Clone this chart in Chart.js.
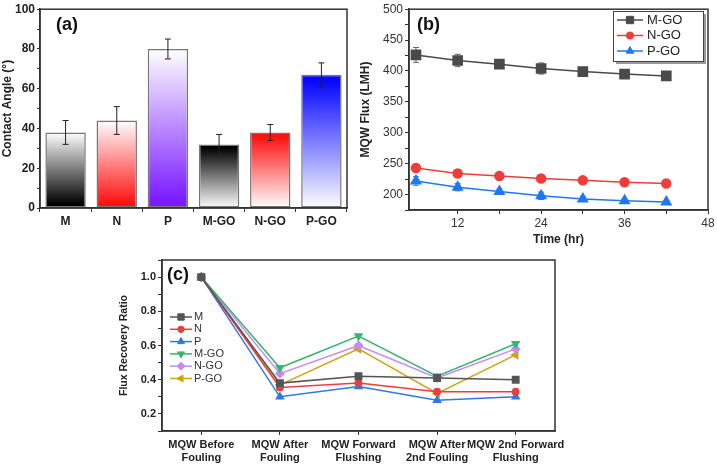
<!DOCTYPE html>
<html><head><meta charset="utf-8">
<script src="https://cdn.jsdelivr.net/npm/chart.js@4.4.0/dist/chart.umd.min.js"></script>
<style>
html,body{margin:0;padding:0;background:#fff;}
#wrap{position:relative;width:717px;height:467px;overflow:hidden;background:#fff;}
.c{position:absolute;}
</style></head><body>
<div id="wrap">
<div class="c" style="left:0;top:0;width:355px;height:235px"><canvas id="ca"></canvas></div>
<div class="c" style="left:355px;top:0;width:362px;height:250px"><canvas id="cb"></canvas></div>
<div class="c" style="left:110px;top:245px;width:470px;height:222px"><canvas id="cc"></canvas></div>
</div>
<script>
// ---------- Data ----------
const angleCategories = ['M', 'N', 'P', 'M-GO', 'N-GO', 'P-GO'];
const angleValues = [38, 44, 80, 32, 38, 67];
const angleErrors = [6, 7, 5, 5, 4, 6];

const timeHours = [6, 12, 18, 24, 30, 36, 42];
const fluxMGO = [426, 417, 411, 404, 399, 395, 392];
const fluxMGOErr = [12, 10, 7, 9, 5, 3, 3];
const fluxNGO = [243, 234, 230, 226, 223, 220, 218];
const fluxNGOErr = [5, 6, 4, 5, 4, 3, 3];
const fluxPGO = [222, 212, 205, 198, 193, 190, 188];
const fluxPGOErr = [7, 6, 4, 6, 4, 3, 2];

const stageLabels = [['MQW Before', 'Fouling'], ['MQW After', 'Fouling'], ['MQW Forward', 'Flushing'], ['MQW After', '2nd Fouling'], ['MQW 2nd Forward', 'Flushing']];
const frrM = [1.0, 0.38, 0.42, 0.41, 0.40];
const frrN = [1.0, 0.355, 0.38, 0.33, 0.33];
const frrP = [1.0, 0.30, 0.36, 0.28, 0.30];
const frrMGO = [1.0, 0.47, 0.655, 0.42, 0.61];
const frrNGO = [1.0, 0.435, 0.60, 0.41, 0.58];
const frrPGO = [1.0, 0.37, 0.58, 0.32, 0.545];

// ---------- Common ----------
const FONT = "'Liberation Sans', Arial, sans-serif";
Chart.defaults.font.family = FONT;
Chart.defaults.color = '#222';
Chart.defaults.animation = false;

const framePlugin = {
  id: 'frame',
  afterDraw(chart) {
    const { ctx, chartArea: a } = chart;
    ctx.save();
    ctx.strokeStyle = '#333';
    ctx.lineWidth = 1.5;
    ctx.strokeRect(a.left, a.top, a.right - a.left, a.bottom - a.top);
    ctx.restore();
  }
};

const panelLabel = {
  id: 'panelLabel',
  afterDraw(chart, args, o) {
    if (!o || !o.text) return;
    const ctx = chart.ctx;
    ctx.save();
    ctx.font = o.font;
    ctx.fillStyle = '#111';
    ctx.textBaseline = 'middle';
    ctx.fillText(o.text, o.x, o.y);
    ctx.restore();
  }
};

function drawErrors(chart) {
  const ctx = chart.ctx;
  const ys = chart.scales.y;
  chart.data.datasets.forEach((ds, di) => {
    if (!ds.errors) return;
    const meta = chart.getDatasetMeta(di);
    meta.data.forEach((el, i) => {
      const raw = ds.data[i];
      const v = typeof raw === 'object' ? raw.y : raw;
      const e = ds.errors[i];
      const yt = ys.getPixelForValue(v + e), yb = ys.getPixelForValue(v - e);
      const cw = ds.capWidth || 4;
      ctx.save();
      ctx.strokeStyle = ds.errorColor || '#000';
      ctx.lineWidth = ds.errorWidth || 1;
      ctx.beginPath();
      ctx.moveTo(el.x, yt); ctx.lineTo(el.x, yb);
      ctx.moveTo(el.x - cw, yt); ctx.lineTo(el.x + cw, yt);
      ctx.moveTo(el.x - cw, yb); ctx.lineTo(el.x + cw, yb);
      ctx.stroke();
      ctx.restore();
    });
  });
}
const errorAfter = { id: 'errorAfter', afterDatasetsDraw(chart) { drawErrors(chart); } };
const errorBefore = { id: 'errorBefore', beforeDatasetsDraw(chart) { drawErrors(chart); } };

const lineLegend = {
  id: 'lineLegend',
  afterDraw(chart, args, o) {
    if (!o || !o.display) return;
    const ctx = chart.ctx;
    ctx.save();
    if (o.box) {
      const b = o.box;
      ctx.fillStyle = '#9a9a9a';
      ctx.fillRect(b.x + 3, b.y + 3, b.w, b.h);
      ctx.fillStyle = '#fff';
      ctx.fillRect(b.x, b.y, b.w, b.h);
      ctx.strokeStyle = '#444';
      ctx.lineWidth = 1;
      ctx.strokeRect(b.x + 0.5, b.y + 0.5, b.w, b.h);
    }
    ctx.font = o.font;
    ctx.textBaseline = 'middle';
    chart.data.datasets.forEach((ds, i) => {
      const y = o.y + i * o.gap;
      ctx.strokeStyle = ds.borderColor;
      ctx.lineWidth = ds.borderWidth;
      ctx.beginPath();
      ctx.moveTo(o.x, y); ctx.lineTo(o.x + o.len, y);
      ctx.stroke();
      ctx.fillStyle = ds.pointBackgroundColor || ds.borderColor;
      ctx.strokeStyle = ds.borderColor;
      ctx.lineWidth = 1;
      Chart.helpers.drawPoint(ctx, {
        pointStyle: ds.pointStyle, radius: (ds.pointRadius || 3) * (o.scale || 1),
        rotation: ds.pointRotation || 0, borderWidth: 1
      }, o.x + o.len / 2, y);
      ctx.fillStyle = o.color || '#222';
      ctx.fillText(ds.label, o.x + o.len + o.textGap, y);
    });
    ctx.restore();
  }
};

// ---------- Panel (a) ----------
const barBase = ['#000000', '#ff1010', '#7a1cff', '#000000', '#ff1010', '#0808ff'];
function barGradient(c) {
  const chart = c.chart;
  if (!chart.chartArea) return 'rgba(0,0,0,0)';
  const i = c.dataIndex;
  const ys = chart.scales.y;
  const top = ys.getPixelForValue(angleValues[i]);
  const bot = ys.getPixelForValue(0);
  const g = chart.ctx.createLinearGradient(0, bot, 0, top);
  if (i < 3) { g.addColorStop(0, barBase[i]); g.addColorStop(0.05, barBase[i]); g.addColorStop(1, '#ffffff'); }
  else { g.addColorStop(0, '#ffffff'); g.addColorStop(0.95, barBase[i]); g.addColorStop(1, barBase[i]); }
  return g;
}

new Chart(document.getElementById('ca'), {
  type: 'bar',
  data: {
    labels: angleCategories,
    datasets: [{
      data: angleValues,
      errors: angleErrors,
      capWidth: 3,
      errorColor: '#222',
      backgroundColor: barGradient,
      borderColor: '#777',
      borderWidth: 1.5,
      borderSkipped: false,
      barPercentage: 0.79,
      categoryPercentage: 1.0
    }]
  },
  options: {
    responsive: true,
    maintainAspectRatio: false,
    layout: { padding: { left: 0, top: 7, right: 8, bottom: 0 } },
    plugins: {
      legend: { display: false }, tooltip: { enabled: false },
      panelLabel: { text: '(a)', x: 56, y: 25, font: "bold 18px " + FONT }
    },
    scales: {
      x: {
        grid: { display: true, drawOnChartArea: false, drawTicks: true, tickLength: 4, color: '#333' },
        border: { display: true, color: '#333', width: 1.5 },
        ticks: { font: { size: 12, weight: 'bold' }, color: '#222', padding: 2 },
        afterFit(s) { s.height = 27; }
      },
      y: {
        min: 0, max: 100,
        ticks: { stepSize: 10, autoSkip: false, font: { size: 12, weight: 'bold' }, color: '#222', padding: 2,
          callback: v => (v % 20 === 0 ? v : '') },
        grid: { display: true, drawOnChartArea: false, drawTicks: true, tickLength: 3, color: '#333' },
        border: { display: true, color: '#333', width: 1.5 },
        title: { display: true, text: 'Contact Angle (°)', font: { size: 12, weight: 'bold' }, color: '#222', padding: { top: 0, bottom: 2 } },
        afterFit(s) { s.width = 40; }
      }
    }
  },
  plugins: [framePlugin, errorAfter, panelLabel]
});

// ---------- Panel (b) ----------
const xy = (arr) => arr.map((v, i) => ({ x: timeHours[i], y: v }));
new Chart(document.getElementById('cb'), {
  type: 'line',
  data: {
    datasets: [
      { label: 'M-GO', data: xy(fluxMGO), errors: fluxMGOErr, errorColor: '#666', capWidth: 3,
        borderColor: '#4a4a4a', backgroundColor: '#4a4a4a', pointBackgroundColor: '#4a4a4a', borderWidth: 1.5,
        pointStyle: 'rect', pointRadius: 6.5 },
      { label: 'N-GO', data: xy(fluxNGO), errors: fluxNGOErr, errorColor: '#f04848', capWidth: 3,
        borderColor: '#f23c3c', backgroundColor: '#f23c3c', pointBackgroundColor: '#f23c3c', borderWidth: 1.5,
        pointStyle: 'circle', pointRadius: 4.5 },
      { label: 'P-GO', data: xy(fluxPGO), errors: fluxPGOErr, errorColor: '#2a80f0', capWidth: 3,
        borderColor: '#1f78f0', backgroundColor: '#1f78f0', pointBackgroundColor: '#1f78f0', borderWidth: 1.5,
        pointStyle: 'triangle', pointRadius: 5.5 }
    ]
  },
  options: {
    responsive: true,
    maintainAspectRatio: false,
    layout: { padding: { left: 0, top: 7, right: 9, bottom: 0 } },
    plugins: {
      legend: { display: false }, tooltip: { enabled: false },
      panelLabel: { text: '(b)', x: 62, y: 25, font: "bold 18px " + FONT },
      lineLegend: { display: true, x: 262, y: 20, gap: 15.5, len: 26, textGap: 4, scale: 0.8,
        font: "13px " + FONT, color: '#222', box: { x: 258, y: 11, w: 90, h: 50 } }
    },
    scales: {
      x: {
        type: 'linear', min: 5, max: 48,
        afterBuildTicks(s) { s.ticks = s.ticks.filter(t => t.value % 6 === 0); },
        ticks: { stepSize: 6, autoSkip: false, font: { size: 12 }, color: '#333', padding: 2,
          callback: v => (v % 12 === 0 ? v : '') },
        grid: { display: true, drawOnChartArea: false, drawTicks: true, tickLength: 4, color: '#333' },
        border: { display: true, color: '#333', width: 1.5 },
        title: { display: true, text: 'Time (hr)', font: { size: 12, weight: 'bold' }, color: '#222', padding: { top: 2, bottom: 3 } },
        afterFit(s) { s.height = 40; }
      },
      y: {
        min: 175, max: 500,
        ticks: { stepSize: 25, autoSkip: false, font: { size: 12 }, color: '#333', padding: 2,
          callback: v => (v % 50 === 0 ? v : '') },
        grid: { display: true, drawOnChartArea: false, drawTicks: true, tickLength: 4, color: '#333' },
        border: { display: true, color: '#333', width: 1.5 },
        title: { display: true, text: 'MQW Flux (LMH)', font: { size: 12, weight: 'bold' }, color: '#222', padding: { top: 3, bottom: 2 } },
        afterFit(s) { s.width = 54; }
      }
    }
  },
  plugins: [framePlugin, errorBefore, panelLabel, lineLegend]
});

// ---------- Panel (c) ----------
const lineStyle = (label, data, color, style, radius, rot) => ({
  label, data, borderColor: color, backgroundColor: color, pointBackgroundColor: color,
  borderWidth: 1.5, pointStyle: style, pointRadius: radius, pointRotation: rot || 0
});
new Chart(document.getElementById('cc'), {
  type: 'line',
  data: {
    labels: stageLabels,
    datasets: [
      lineStyle('M', frrM, '#555555', 'rect', 4.5),
      lineStyle('N', frrN, '#f03c3c', 'circle', 3.2),
      lineStyle('P', frrP, '#2a7ae8', 'triangle', 4),
      lineStyle('M-GO', frrMGO, '#3cb371', 'triangle', 4, 180),
      lineStyle('N-GO', frrNGO, '#c48af5', 'rectRot', 4),
      lineStyle('P-GO', frrPGO, '#d4a012', 'triangle', 4, 270)
    ]
  },
  options: {
    responsive: true,
    maintainAspectRatio: false,
    layout: { padding: { left: 0, top: 15, right: 25, bottom: 0 } },
    plugins: {
      legend: { display: false }, tooltip: { enabled: false },
      panelLabel: { text: '(c)', x: 57, y: 30, font: "bold 18px " + FONT },
      lineLegend: { display: true, x: 60, y: 72, gap: 12.3, len: 22, textGap: 2, scale: 1,
        font: "11px " + FONT, color: '#333' }
    },
    scales: {
      x: {
        offset: true,
        ticks: { font: { size: 11, weight: 'bold' }, color: '#222', padding: 3, maxRotation: 0, autoSkip: false },
        grid: { display: true, drawOnChartArea: false, drawTicks: true, tickLength: 4, color: '#333', offset: false },
        border: { display: true, color: '#333', width: 1.5 },
        afterFit(s) { s.height = 36; }
      },
      y: {
        min: 0.1, max: 1.1,
        ticks: { stepSize: 0.1, autoSkip: false, font: { size: 11, weight: 'bold' }, color: '#222', padding: 2,
          callback: v => { const k = Math.round(v * 10); return (k % 2 === 0) ? (k / 10).toFixed(1) : ''; } },
        grid: { display: true, drawOnChartArea: false, drawTicks: true, tickLength: 4, color: '#333' },
        border: { display: true, color: '#333', width: 1.5 },
        title: { display: true, text: 'Flux Recovery Ratio', font: { size: 10.5, weight: 'bold' }, color: '#222', padding: { top: 8, bottom: 2 } },
        afterFit(s) { s.width = 52; }
      }
    }
  },
  plugins: [framePlugin, panelLabel, lineLegend]
});
</script>
</body></html>
